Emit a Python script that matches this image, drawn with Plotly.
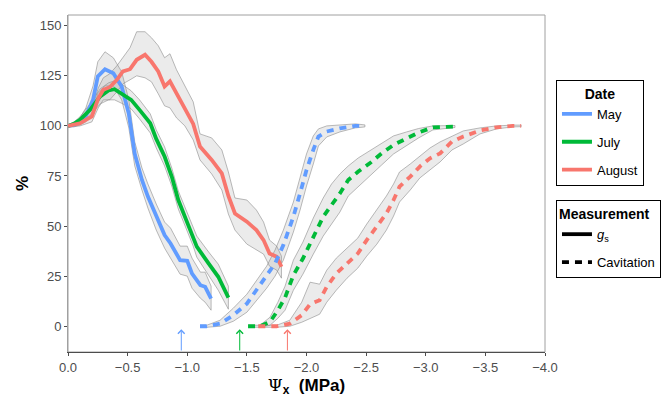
import plotly.graph_objects as go

# ---------------- data ----------------
months = ["May", "July", "August"]
colors = {"May": "#619CFF", "July": "#00BA38", "August": "#F8766D"}

# stomatal conductance (gs), % of initial
may_gs_x = [0, -0.05, -0.10, -0.15, -0.21, -0.25, -0.31, -0.38, -0.45, -0.51, -0.56, -0.62, -0.67, -0.74, -0.81, -0.86, -0.94, -1.00, -1.04, -1.11, -1.15, -1.20]
may_gs_y = [100, 100.5, 102, 105, 113, 124.7, 128.3, 126.3, 119.7, 106, 86, 73, 64.7, 54.7, 45.5, 41.3, 33, 32.7, 26.3, 20.5, 19.7, 13.8]
may_gs_lo = [99.5, 99.5, 100.5, 102, 106, 116, 120, 120, 113, 99, 80, 68, 59, 48, 39, 34, 26, 25, 19, 14, 12, 8]
may_gs_hi = [100.5, 101.5, 104, 109, 120, 132, 137, 134, 127, 113, 92, 79, 71, 61, 52, 49, 40, 40, 34, 27, 27, 20]

jul_gs_x = [0, -0.05, -0.10, -0.185, -0.27, -0.34, -0.39, -0.46, -0.53, -0.60, -0.69, -0.74, -0.81, -0.87, -0.925, -0.98, -1.05, -1.08, -1.18, -1.26, -1.345]
jul_gs_y = [100, 101, 103, 108, 114.7, 117.7, 118.3, 115.5, 113, 108, 101.3, 93.5, 84.7, 74.7, 63, 54.7, 45, 39.7, 31.3, 24.7, 14.3]
jul_gs_lo = [99.5, 100, 101.5, 105, 111, 113, 113, 111, 108.5, 103.5, 96.5, 89, 80, 70, 58.5, 50, 40, 34.5, 25.5, 18, 8.5]
jul_gs_hi = [100.5, 102, 104.5, 111, 118.5, 121.5, 122.5, 120.5, 117.5, 113, 106, 98, 89.5, 79, 67.5, 59.5, 50, 45, 37, 31, 20]

aug_gs_x = [0, -0.10, -0.20, -0.254, -0.296, -0.35, -0.41, -0.46, -0.52, -0.576, -0.646, -0.70, -0.757, -0.81, -0.855, -0.91, -0.98, -1.05, -1.107, -1.205, -1.29, -1.345, -1.40, -1.50, -1.58, -1.64, -1.69, -1.75, -1.79]
aug_gs_y = [100, 101.3, 104.7, 113.8, 118, 119.3, 123, 127.2, 128.3, 133, 135.5, 132, 127.2, 119.7, 122.2, 116.3, 108.8, 101, 89.7, 83, 76.3, 65, 56.3, 52.2, 48, 43, 36.3, 34.7, 29.7]
aug_gs_lo = [99.5, 100, 102, 109, 113, 113, 117, 121, 123, 125, 124, 122, 116, 110, 109, 104, 100, 93, 83, 76, 68, 56, 48, 41, 38, 36, 30, 28, 24]
aug_gs_hi = [100.5, 103, 108, 119, 124, 126, 130, 134, 139, 147, 147, 144, 140, 134, 136, 128, 120, 112, 96, 94, 88, 77, 64, 63, 58, 52, 43, 40, 35]

# cavitation, % of total
may_cav_x = [-1.107, -1.163, -1.275, -1.386, -1.50, -1.58, -1.666, -1.736, -1.806, -1.89, -1.946, -2.0, -2.057, -2.10, -2.17, -2.28, -2.41, -2.49]
may_cav_y = [0, 0, 1.3, 5.5, 11.3, 18, 24.7, 31.3, 40.5, 54.7, 66.3, 78, 88, 94.7, 97.2, 98.8, 100, 100]
may_cav_lo = [-0.5, -0.5, 0, 2.5, 7, 13, 19, 25, 33, 47, 58, 70, 81, 90, 94.5, 97, 99, 99.5]
may_cav_hi = [0.5, 0.5, 3, 9, 16, 23, 30, 38, 48, 62, 74, 86, 95, 98.5, 100, 100.5, 101, 100.5]

jul_cav_x = [-1.51, -1.61, -1.694, -1.76, -1.82, -1.89, -1.97, -2.057, -2.14, -2.21, -2.28, -2.35, -2.434, -2.53, -2.63, -2.73, -2.84, -2.94, -3.06, -3.245]
jul_cav_y = [0, 0, 2.2, 8, 14.3, 25.5, 33.8, 44.7, 54.7, 60.5, 66.3, 73, 77.2, 81.3, 86.3, 90.5, 93.8, 96.7, 99.3, 99.7]
jul_cav_lo = [-0.5, -0.5, 0.5, 4, 8, 18, 26, 36, 45, 51, 57, 65, 70, 75, 80.5, 86, 90, 94, 98, 99.2]
jul_cav_hi = [0.5, 0.5, 4.5, 12, 20, 33, 42, 54, 64, 71, 76, 80, 84, 87.5, 91.5, 95, 97, 98.7, 100, 100.2]

aug_cav_x = [-1.596, -1.75, -1.86, -1.96, -2.03, -2.11, -2.17, -2.25, -2.34, -2.43, -2.505, -2.59, -2.67, -2.73, -2.78, -2.87, -2.95, -3.036, -3.12, -3.22, -3.315, -3.455, -3.595, -3.73, -3.80]
aug_cav_y = [0, 0, 1.3, 5.5, 11, 13, 19.7, 26.3, 31.3, 36.3, 43, 49.7, 56.3, 63, 69.7, 74.7, 79.7, 83.8, 86.3, 92.2, 94.7, 97.7, 99.3, 100, 100]
aug_cav_lo = [-0.5, -0.5, 0, 2, 4, 6, 12, 18, 24, 29, 35, 41, 48, 55, 62, 68, 74, 78, 82, 88, 91, 96, 98.5, 99.5, 99.6]
aug_cav_hi = [0.5, 0.5, 3, 12, 22, 21, 28, 34, 39, 44, 51, 58, 65, 71, 77, 81, 85, 89, 92, 95, 97.5, 99, 100, 100.4, 100.4]

# arrows marking water potential thresholds, MPa
arrow_x = {"May": -0.95, "July": -1.44, "August": -1.84}

x_ticks = [0, -0.5, -1.0, -1.5, -2.0, -2.5, -3.0, -3.5, -4.0]
y_ticks = [0, 25, 50, 75, 100, 125, 150]

series = [
    ("May", "gs", may_gs_x, may_gs_y, may_gs_lo, may_gs_hi),
    ("July", "gs", jul_gs_x, jul_gs_y, jul_gs_lo, jul_gs_hi),
    ("August", "gs", aug_gs_x, aug_gs_y, aug_gs_lo, aug_gs_hi),
    ("May", "cav", may_cav_x, may_cav_y, may_cav_lo, may_cav_hi),
    ("July", "cav", jul_cav_x, jul_cav_y, jul_cav_lo, jul_cav_hi),
    ("August", "cav", aug_cav_x, aug_cav_y, aug_cav_lo, aug_cav_hi),
]

FONT = "Liberation Sans, Arial, sans-serif"
DASH = "7px,6px"

fig = go.Figure()

# ribbons
for m, kind, x, y, lo, hi in series:
    fig.add_trace(go.Scatter(
        x=list(x) + list(x)[::-1], y=list(hi) + list(lo)[::-1],
        mode="lines", fill="toself", fillcolor="rgba(153,153,153,0.2)",
        line=dict(color="rgba(140,140,140,0.75)", width=0.8),
        hoverinfo="skip", showlegend=False))

# lines
for m, kind, x, y, lo, hi in series:
    fig.add_trace(go.Scatter(
        x=x, y=y, mode="lines",
        line=dict(color=colors[m], width=3.8, dash="solid" if kind == "gs" else DASH),
        showlegend=False))

# legend entries: Date
for m in months:
    fig.add_trace(go.Scatter(x=[None], y=[None], mode="lines", name=m,
                             line=dict(color=colors[m], width=3.8),
                             legend="legend", legendgroup=m))
# legend entries: Measurement
fig.add_trace(go.Scatter(x=[None], y=[None], mode="lines", name="<i>g</i><sub>s</sub>",
                         line=dict(color="black", width=3.8), legend="legend2", legendgroup="gs"))
fig.add_trace(go.Scatter(x=[None], y=[None], mode="lines", name="Cavitation",
                         line=dict(color="black", width=3.8, dash=DASH), legend="legend2", legendgroup="cav"))

# arrows
for m in months:
    fig.add_annotation(x=arrow_x[m], y=-1.5, ax=arrow_x[m], ay=-12.85,
                       xref="x", yref="y", axref="x", ayref="y",
                       showarrow=True, arrowhead=4, arrowsize=1.3, arrowwidth=1,
                       arrowcolor=colors[m], text="")

fig.update_layout(
    width=672, height=403,
    margin=dict(l=68, r=127, t=15, b=51, autoexpand=False),
    plot_bgcolor="white", paper_bgcolor="white",
    font=dict(family=FONT, size=13, color="black"),
    xaxis=dict(range=[0, -4], tickvals=x_ticks, tickformat=".1f",
               showgrid=False, zeroline=False,
               showline=True, linecolor="#4d4d4d", linewidth=1.2,
               mirror=False, ticks="outside", ticklen=3, tickcolor="#4d4d4d",
               tickfont=dict(size=13, color="#4d4d4d"),
               title=dict(text="<b><span style=\"font-family:DejaVu Serif;font-weight:normal\">Ψ</span><sub>x</sub>  (MPa)</b>",
                          font=dict(size=17, color="black"), standoff=3)),
    yaxis=dict(range=[-12.85, 155.35], tickvals=y_ticks,
               showgrid=False, zeroline=False,
               showline=True, linecolor="#a0a0a0", linewidth=1,
               ticks="outside", ticklen=3, tickcolor="#4d4d4d",
               tickfont=dict(size=13, color="#4d4d4d"),
               title=dict(text="<b>%</b>", font=dict(size=17, color="black"), standoff=6)),
    legend=dict(title=dict(text="<b>Date</b>", side="top center", font=dict(size=14)),
                x=1.023, y=0.808, xanchor="left", yanchor="top",
                bordercolor="black", borderwidth=1, bgcolor="white",
                font=dict(size=13), tracegroupgap=8, traceorder="grouped"),
    legend2=dict(title=dict(text="<b>Measurement</b>", side="top", font=dict(size=14)),
                 x=1.023, y=0.451, xanchor="left", yanchor="top",
                 bordercolor="black", borderwidth=1, bgcolor="white",
                 font=dict(size=13), tracegroupgap=8, traceorder="grouped"),
)

# panel border (top and right)
fig.add_shape(type="rect", xref="paper", yref="paper", x0=0, y0=0, x1=1, y1=1,
              line=dict(color="#a0a0a0", width=1), layer="below")

fig.write_html("out.html")
